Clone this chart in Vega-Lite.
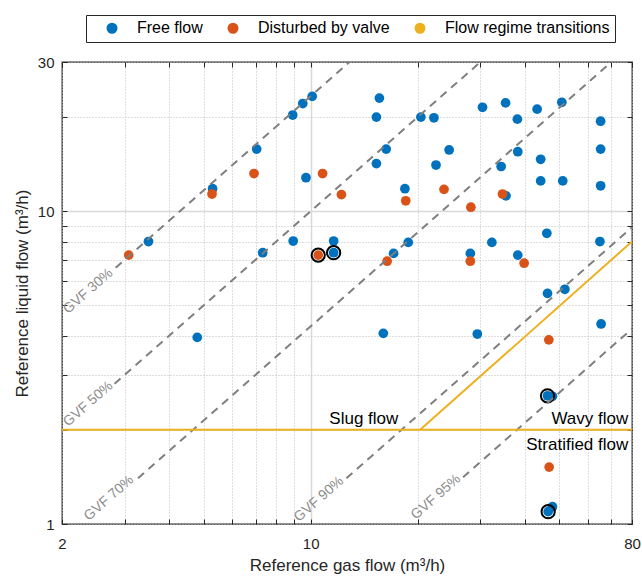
{
  "$schema": "https://vega.github.io/schema/vega-lite/v6.json",
  "width": 570,
  "height": 462,
  "autosize": "none",
  "padding": {"left": 62, "top": 62, "right": 10, "bottom": 57},
  "background": "white",
  "config": {
    "font": "Liberation Sans",
    "view": {"stroke": "#262626", "strokeWidth": 1.3},
    "axis": {
      "domain": false,
      "tickColor": "#262626",
      "tickSize": -5,
      "tickWidth": 1,
      "labelColor": "#262626",
      "labelFontSize": 15,
      "labelFont": "Liberation Sans",
      "titleFont": "Liberation Sans",
      "titleFontSize": 17,
      "titleFontWeight": "normal",
      "titleColor": "#262626",
      "labelOverlap": false,
      "labelFlush": false,
      "labelBound": false
    }
  },
  "datasets": {
    "pts": [
      {"series": "Free flow", "x": 3.5, "y": 8.0},
      {"series": "Free flow", "x": 5.3, "y": 11.8},
      {"series": "Free flow", "x": 7.05, "y": 15.8},
      {"series": "Free flow", "x": 8.9, "y": 20.3},
      {"series": "Free flow", "x": 9.5, "y": 22.1},
      {"series": "Free flow", "x": 10.1, "y": 23.3},
      {"series": "Free flow", "x": 9.7, "y": 12.8},
      {"series": "Free flow", "x": 7.33, "y": 7.37},
      {"series": "Free flow", "x": 8.93, "y": 8.03},
      {"series": "Free flow", "x": 11.6, "y": 7.37},
      {"series": "Free flow", "x": 11.6, "y": 8.03},
      {"series": "Free flow", "x": 15.6, "y": 23.0},
      {"series": "Free flow", "x": 15.3, "y": 20.0},
      {"series": "Free flow", "x": 20.4, "y": 20.0},
      {"series": "Free flow", "x": 22.2, "y": 19.9},
      {"series": "Free flow", "x": 16.3, "y": 15.8},
      {"series": "Free flow", "x": 15.3, "y": 14.2},
      {"series": "Free flow", "x": 18.4, "y": 11.8},
      {"series": "Free flow", "x": 22.5, "y": 14.05},
      {"series": "Free flow", "x": 24.5, "y": 15.7},
      {"series": "Free flow", "x": 30.4, "y": 21.5},
      {"series": "Free flow", "x": 35.3, "y": 22.2},
      {"series": "Free flow", "x": 38.1, "y": 19.7},
      {"series": "Free flow", "x": 43.3, "y": 21.2},
      {"series": "Free flow", "x": 50.8, "y": 22.3},
      {"series": "Free flow", "x": 65.3, "y": 19.4},
      {"series": "Free flow", "x": 65.3, "y": 15.8},
      {"series": "Free flow", "x": 65.3, "y": 12.06},
      {"series": "Free flow", "x": 38.2, "y": 15.5},
      {"series": "Free flow", "x": 34.3, "y": 13.9},
      {"series": "Free flow", "x": 44.3, "y": 14.66},
      {"series": "Free flow", "x": 44.3, "y": 12.5},
      {"series": "Free flow", "x": 51.1, "y": 12.5},
      {"series": "Free flow", "x": 35.4, "y": 11.2},
      {"series": "Free flow", "x": 18.8, "y": 7.95},
      {"series": "Free flow", "x": 17.1, "y": 7.33},
      {"series": "Free flow", "x": 28.1, "y": 7.33},
      {"series": "Free flow", "x": 32.3, "y": 7.95},
      {"series": "Free flow", "x": 38.2, "y": 7.24},
      {"series": "Free flow", "x": 46.1, "y": 8.5},
      {"series": "Free flow", "x": 65.0, "y": 8.0},
      {"series": "Free flow", "x": 46.3, "y": 5.46},
      {"series": "Free flow", "x": 51.8, "y": 5.63},
      {"series": "Free flow", "x": 4.8, "y": 3.95},
      {"series": "Free flow", "x": 16.0, "y": 4.07},
      {"series": "Free flow", "x": 29.4, "y": 4.05},
      {"series": "Free flow", "x": 65.5, "y": 4.36},
      {"series": "Free flow", "x": 47.8, "y": 2.56},
      {"series": "Free flow", "x": 46.3, "y": 2.57},
      {"series": "Free flow", "x": 47.8, "y": 1.136},
      {"series": "Free flow", "x": 46.5, "y": 1.095},
      {"series": "Disturbed by valve", "x": 3.08, "y": 7.24},
      {"series": "Disturbed by valve", "x": 5.28, "y": 11.35},
      {"series": "Disturbed by valve", "x": 6.93, "y": 13.2},
      {"series": "Disturbed by valve", "x": 10.5, "y": 7.24},
      {"series": "Disturbed by valve", "x": 10.8, "y": 13.2},
      {"series": "Disturbed by valve", "x": 12.2, "y": 11.3},
      {"series": "Disturbed by valve", "x": 18.5, "y": 10.8},
      {"series": "Disturbed by valve", "x": 23.7, "y": 11.75},
      {"series": "Disturbed by valve", "x": 34.6, "y": 11.35},
      {"series": "Disturbed by valve", "x": 28.2, "y": 10.3},
      {"series": "Disturbed by valve", "x": 16.4, "y": 6.92},
      {"series": "Disturbed by valve", "x": 28.1, "y": 6.92},
      {"series": "Disturbed by valve", "x": 39.8, "y": 6.82},
      {"series": "Disturbed by valve", "x": 46.7, "y": 3.88},
      {"series": "Disturbed by valve", "x": 46.8, "y": 1.52}
    ],
    "rings": [
      {"x": 10.5, "y": 7.24},
      {"x": 11.6, "y": 7.37},
      {"x": 46.3, "y": 2.57},
      {"x": 46.5, "y": 1.095}
    ],
    "gvf": [
      {"gvf": "30", "x": 2.83, "y": 6.6},
      {"gvf": "30", "x": 12.86, "y": 30},
      {"gvf": "50", "x": 2.81, "y": 2.81},
      {"gvf": "50", "x": 30, "y": 30},
      {"gvf": "70", "x": 3.27, "y": 1.4},
      {"gvf": "70", "x": 70, "y": 30},
      {"gvf": "90", "x": 12.6, "y": 1.4},
      {"gvf": "90", "x": 80, "y": 8.889},
      {"gvf": "95", "x": 26.8, "y": 1.41},
      {"gvf": "95", "x": 80, "y": 4.21}
    ],
    "gvflab": [
      {"label": "GVF 30%", "x": 2.37, "y": 5.55},
      {"label": "GVF 50%", "x": 2.37, "y": 2.42},
      {"label": "GVF 70%", "x": 2.71, "y": 1.21},
      {"label": "GVF 90%", "x": 10.55, "y": 1.2},
      {"label": "GVF 95%", "x": 22.5, "y": 1.22}
    ],
    "trans": [
      {"series": "Flow regime transitions", "seg": "h", "x": 2, "y": 2},
      {"series": "Flow regime transitions", "seg": "h", "x": 80, "y": 2},
      {"series": "Flow regime transitions", "seg": "d", "x": 20.3, "y": 2},
      {"series": "Flow regime transitions", "seg": "d", "x": 80, "y": 8}
    ],
    "regions": [
      {"label": "Slug flow", "x": 17.63, "y": 2.088},
      {"label": "Wavy flow", "x": 78.1, "y": 2.088},
      {"label": "Stratified flow", "x": 78.1, "y": 1.718}
    ]
  },
  "encoding": {
    "x": {"field": "x", "type": "quantitative", "scale": {"type": "log", "domain": [2, 80], "nice": false, "zero": false}, "axis": null},
    "y": {"field": "y", "type": "quantitative", "scale": {"type": "log", "domain": [1, 30], "nice": false, "zero": false}, "axis": null}
  },
  "layer": [
    {
      "data": {"name": "pts"},
      "mark": {"type": "circle", "size": 95, "opacity": 1},
      "encoding": {
        "x": {
          "field": "x", "type": "quantitative",
          "scale": {"type": "log", "domain": [2, 80], "nice": false, "zero": false},
          "axis": {
            "orient": "bottom",
            "values": [2, 3, 4, 5, 6, 7, 8, 9, 10, 20, 30, 40, 50, 60, 70, 80],
            "labelExpr": "indexof([2, 10, 80], datum.value) >= 0 ? format(datum.value, 'd') : ''",
            "labelPadding": 17,
            "grid": true,
            "gridColor": {"condition": {"test": "datum.value == 10", "value": "#d9d9d9"}, "value": "#bdbdbd"},
            "gridDash": {"condition": {"test": "datum.value == 10", "value": []}, "value": [1, 2]},
            "gridWidth": {"condition": {"test": "datum.value == 10", "value": 1.5}, "value": 1},
            "title": "Reference gas flow (m³/h)",
            "titlePadding": 6
          }
        },
        "y": {
          "field": "y", "type": "quantitative",
          "scale": {"type": "log", "domain": [1, 30], "nice": false, "zero": false},
          "axis": {
            "orient": "left",
            "values": [1, 2, 3, 4, 5, 6, 7, 8, 9, 10, 20, 30],
            "labelExpr": "indexof([1, 10, 30], datum.value) >= 0 ? format(datum.value, 'd') : ''",
            "labelPadding": 13,
            "grid": true,
            "gridColor": {"condition": {"test": "datum.value == 10", "value": "#d9d9d9"}, "value": "#bdbdbd"},
            "gridDash": {"condition": {"test": "datum.value == 10", "value": []}, "value": [1, 2]},
            "gridWidth": {"condition": {"test": "datum.value == 10", "value": 1.5}, "value": 1},
            "title": "Reference liquid flow (m³/h)",
            "titlePadding": 6
          }
        },
        "color": {
          "field": "series", "type": "nominal",
          "scale": {"domain": ["Free flow", "Disturbed by valve", "Flow regime transitions"], "range": ["#0072BD", "#D95319", "#EDB120"]},
          "legend": {
            "title": null,
            "orient": "none",
            "legendX": 24,
            "legendY": -47,
            "direction": "horizontal",
            "padding": 5,
            "strokeColor": "#262626",
            "fillColor": "white",
            "labelFontSize": 16,
            "labelColor": "black",
            "labelFont": "Liberation Sans",
            "labelLimit": 400,
            "symbolSize": 81,
            "symbolStrokeWidth": 2,
            "symbolOffset": 13,
            "labelOffset": 17,
            "columnPadding": 9,
            "encode": {
              "symbols": {
                "shape": {"signal": "datum.value === 'Flow regime transitions' ? 'M-5.2,0L3.9,0' : 'circle'"},
                "fill": {"scale": "color", "field": "value"},
                "stroke": {"scale": "color", "field": "value"},
                "opacity": {"value": 1}
              }
            }
          }
        }
      }
    },
    {
      "data": {"name": "rings"},
      "mark": {"type": "point", "shape": "circle", "filled": false, "stroke": "black", "strokeWidth": 2, "size": 175, "opacity": 1},
      "encoding": {
        "x": {
          "field": "x", "type": "quantitative",
          "scale": {"type": "log", "domain": [2, 80], "nice": false, "zero": false},
          "axis": {"orient": "top", "values": [2, 3, 4, 5, 6, 7, 8, 9, 10, 20, 30, 40, 50, 60, 70, 80], "labels": false, "grid": false, "title": null}
        },
        "y": {
          "field": "y", "type": "quantitative",
          "scale": {"type": "log", "domain": [1, 30], "nice": false, "zero": false},
          "axis": {"orient": "right", "values": [1, 2, 3, 4, 5, 6, 7, 8, 9, 10, 20, 30], "labels": false, "grid": false, "title": null}
        }
      }
    },
    {
      "data": {"name": "gvf"},
      "mark": {"type": "line", "color": "#7f7f7f", "strokeWidth": 2, "strokeDash": [8, 6]},
      "encoding": {"detail": {"field": "gvf"}}
    },
    {
      "data": {"name": "gvflab"},
      "mark": {"type": "text", "angle": -41.3, "fontSize": 14, "color": "#8c8c8c", "align": "center", "baseline": "middle", "font": "Liberation Sans"},
      "encoding": {"text": {"field": "label"}}
    },
    {
      "data": {"name": "trans"},
      "mark": {"type": "line", "strokeWidth": 2},
      "encoding": {
        "color": {"field": "series", "type": "nominal"},
        "detail": {"field": "seg"}
      }
    },
    {
      "data": {"name": "regions"},
      "mark": {"type": "text", "fontSize": 17, "color": "black", "align": "right", "baseline": "alphabetic", "font": "Liberation Sans"},
      "encoding": {"text": {"field": "label"}}
    }
  ],
  "resolve": {"axis": {"x": "independent", "y": "independent"}}
}
